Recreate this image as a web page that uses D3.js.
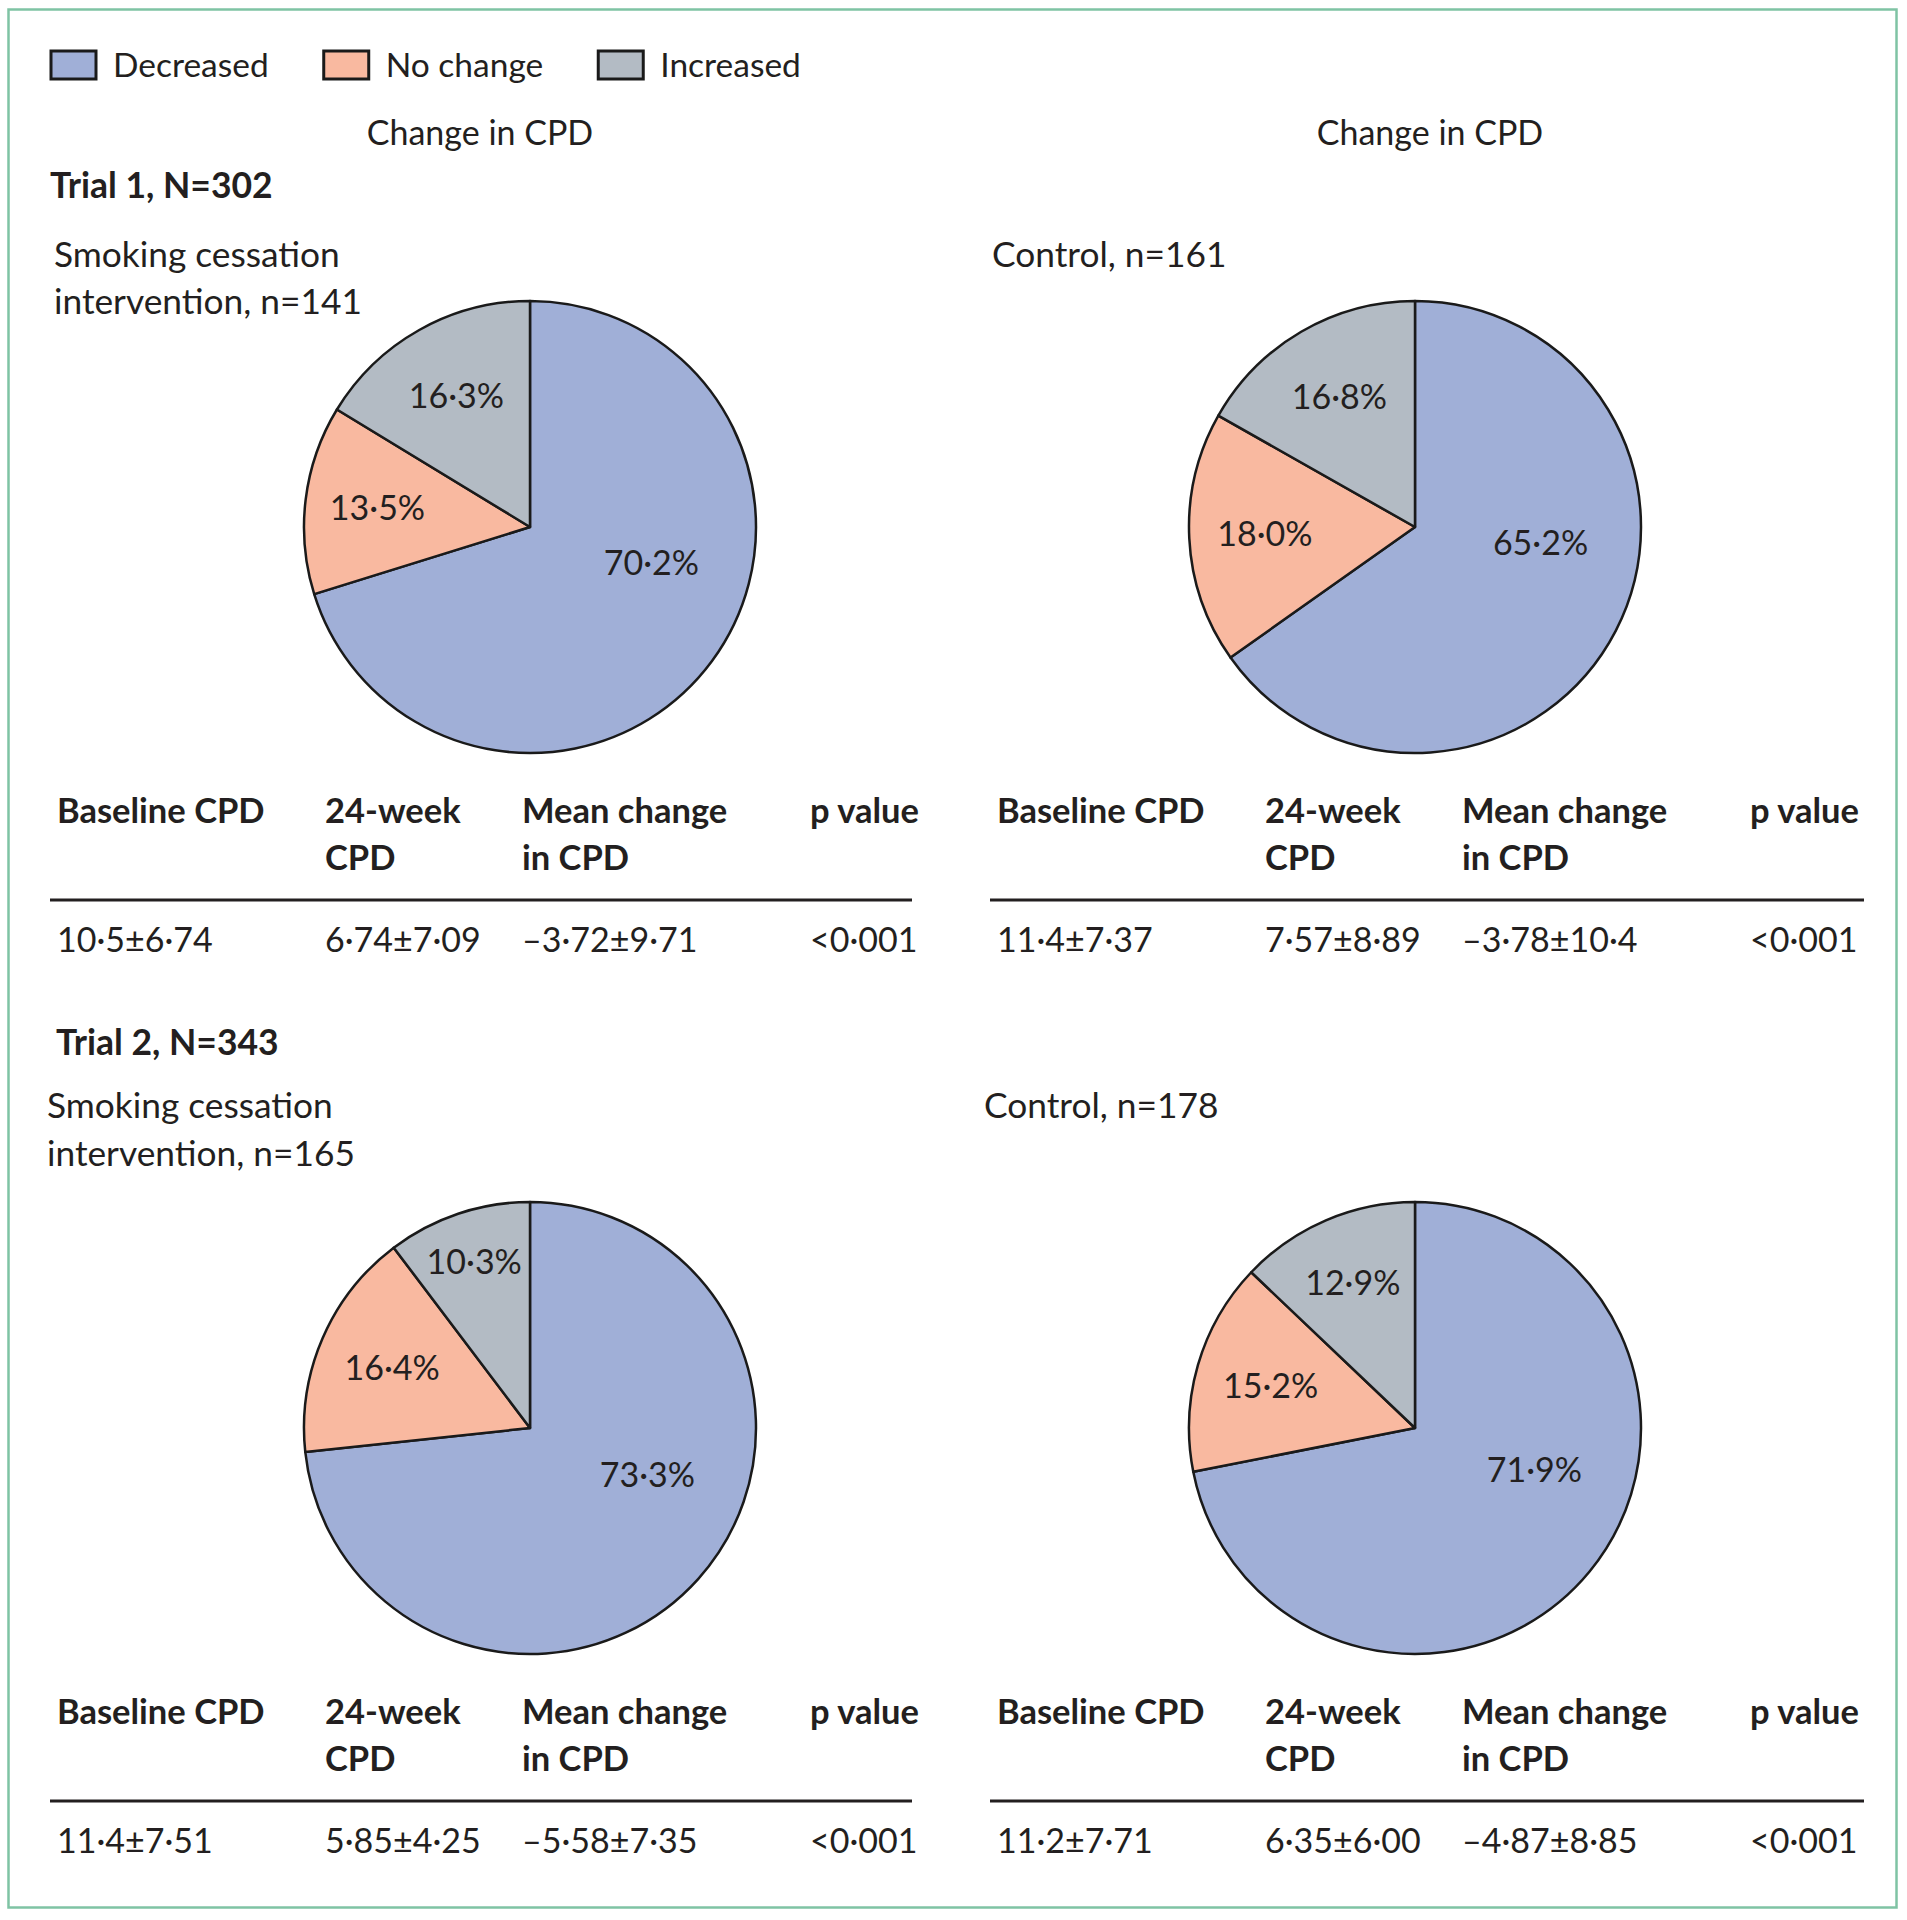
<!DOCTYPE html>
<html>
<head>
<meta charset="utf-8">
<script src="https://cdn.jsdelivr.net/npm/d3@7"></script>
<style>
  html, body { margin: 0; padding: 0; background: #ffffff; }
  svg text { font-family: Lato, "Open Sans", sans-serif; fill: #231f20; }
</style>
</head>
<body>
<svg id="chart" width="1907" height="1920"></svg>
<script>
// ---------------- data ----------------
const categories = ["Decreased", "No change", "Increased"];
const trialTitles = ["Trial 1, N=302", "Trial 2, N=343"];
const groupLabels = [
  ["Smoking cessation", "intervention, n=141"],
  ["Control, n=161"],
  ["Smoking cessation", "intervention, n=165"],
  ["Control, n=178"]
];
const sharesT1Intervention = [70.2, 13.5, 16.3];
const sharesT1Control      = [65.2, 18.0, 16.8];
const sharesT2Intervention = [73.3, 16.4, 10.3];
const sharesT2Control      = [71.9, 15.2, 12.9];
const columnTitle = "Change in CPD";
const tableHeaders = [["Baseline CPD"], ["24-week", "CPD"], ["Mean change", "in CPD"], ["p value"]];
const baselineCPD = ["10·5±6·74", "11·4±7·37", "11·4±7·51", "11·2±7·71"];
const week24CPD   = ["6·74±7·09", "7·57±8·89", "5·85±4·25", "6·35±6·00"];
const meanChange  = ["–3·72±9·71", "–3·78±10·4", "–5·58±7·35", "–4·87±8·85"];
const pValues     = ["<0·001", "<0·001", "<0·001", "<0·001"];

// ---------------- styling / layout ----------------
const colors = ["#a0afd7", "#f9b9a0", "#b3bbc4"];
const FS = 34;
const svg = d3.select("#chart");

const color = d3.scaleOrdinal().domain(categories).range(colors);

// outer frame
svg.append("rect")
  .attr("x", 8.5).attr("y", 9.5).attr("width", 1888).attr("height", 1898)
  .attr("fill", "none").attr("stroke", "#7fc3a4").attr("stroke-width", 2.5);

// legend
const legend = svg.append("g");
let lx = 51;
categories.forEach((c, i) => {
  const g = legend.append("g");
  g.append("rect").attr("x", lx).attr("y", 51).attr("width", 45).attr("height", 28)
    .attr("fill", color(c)).attr("stroke", "#1a1a1a").attr("stroke-width", 3);
  const t = g.append("text").attr("x", lx + 62).attr("y", 77)
    .attr("font-size", 33.5).text(c);
  const w = t.node().getComputedTextLength();
  lx = lx + 62 + w + 55;
});

// column titles
const colCenters = [480, 1430];
colCenters.forEach(cx => {
  svg.append("text").attr("x", cx).attr("y", 145).attr("text-anchor", "middle")
    .attr("font-size", FS).text(columnTitle);
});

// panels
const rowOffset = [0, 901];
const pieCX = [530, 1415];
const pieCY = 527;
const R = 226;
const tableX = [50, 990];
const ruleW = [862, 874];
const colOff = [7, 275, 472, 760];
const groupX = [[54, 992], [47, 984]];
const titleX = [50, 56];
const titleY = [198, 1055];
const groupY = [[267, 314], [1118, 1166]];

const allShares = [sharesT1Intervention, sharesT1Control, sharesT2Intervention, sharesT2Control];

const pie = d3.pie().sort(null).value(d => d.v).startAngle(0).endAngle(2 * Math.PI);
const arc = d3.arc().innerRadius(0).outerRadius(R);
const fmt = v => d3.format(".1f")(v).replace(".", "·") + "%";

trialTitles.forEach((t, r) => {
  svg.append("text").attr("x", titleX[r]).attr("y", titleY[r])
    .attr("font-size", 35.5).attr("font-weight", 700).text(t);
});

for (let p = 0; p < 4; p++) {
  const row = Math.floor(p / 2), col = p % 2;
  const dy = rowOffset[row];

  // group label
  groupLabels[p].forEach((line, li) => {
    svg.append("text").attr("x", groupX[row][col]).attr("y", groupY[row][li])
      .attr("font-size", 35.3).text(line);
  });

  // pie
  const data = categories.map((c, i) => ({ c, v: allShares[p][i] }));
  const arcs = pie(data);
  const maxV = d3.max(data, d => d.v);
  const g = svg.append("g").attr("transform", `translate(${pieCX[col]},${pieCY + dy})`);
  g.selectAll("path").data(arcs).join("path")
    .attr("d", arc)
    .attr("fill", d => color(d.data.c))
    .attr("stroke", "#1a1a1a").attr("stroke-width", 2.5).attr("stroke-linejoin", "round");
  g.selectAll("text").data(arcs).join("text")
    .attr("transform", d => {
      let a = (d.startAngle + d.endAngle) / 2;
      let rr = R * (0.665 + Math.max(0, 14 - d.data.v) * 0.03);
      if (d.data.v === maxV) { a -= 20 * Math.PI / 180; rr = R * 0.56; }
      return `translate(${rr * Math.sin(a)},${-rr * Math.cos(a)})`;
    })
    .attr("text-anchor", "middle").attr("dy", "0.35em")
    .attr("font-size", FS).attr("fill", "#2b2b2b")
    .text(d => fmt(d.data.v));

  // table
  const tx = tableX[col];
  const tg = svg.append("g");
  tableHeaders.forEach((lines, ci) => {
    lines.forEach((line, li) => {
      tg.append("text").attr("x", tx + colOff[ci]).attr("y", 823 + dy + li * 47)
        .attr("font-size", 34.5).attr("font-weight", 700).text(line);
    });
  });
  tg.append("line").attr("x1", tx).attr("x2", tx + ruleW[col])
    .attr("y1", 900 + dy).attr("y2", 900 + dy)
    .attr("stroke", "#231f20").attr("stroke-width", 3);
  const vals = [baselineCPD[p], week24CPD[p], meanChange[p], pValues[p]];
  vals.forEach((v, ci) => {
    tg.append("text").attr("x", tx + colOff[ci]).attr("y", 952 + dy)
      .attr("font-size", FS).text(v);
  });
}
</script>
</body>
</html>
